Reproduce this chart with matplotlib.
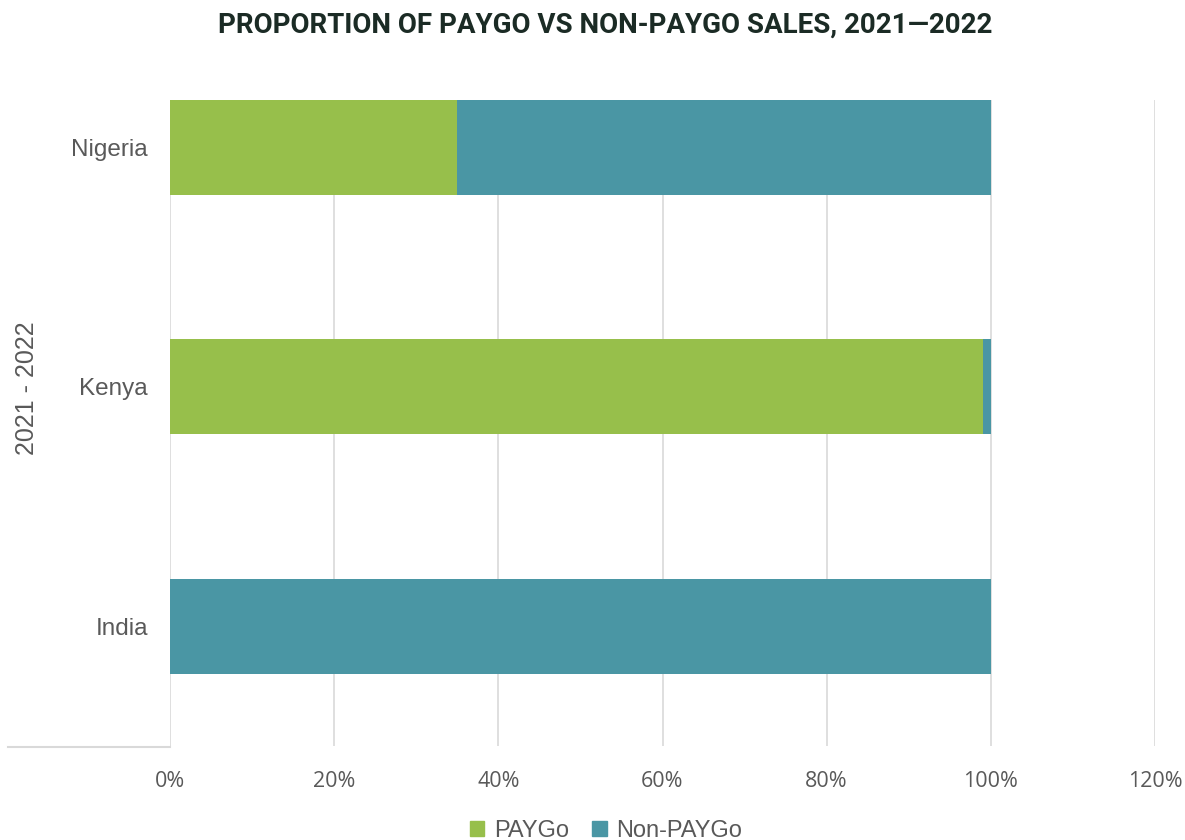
import matplotlib.pyplot as plt
from matplotlib.lines import Line2D
from matplotlib.patches import Patch
from matplotlib.ticker import PercentFormatter

# donnees (de bas en haut)
pays = ["India", "Kenya", "Nigeria"]
paygo = [0, 99, 35]
non_paygo = [100, 1, 65]
graduations = [0, 20, 40, 60, 80, 100, 120]

vert = "#97bf4b"
bleu = "#4a96a4"
gris_texte = "#595959"
gris_grille = "#d9d9d9"
arial = ["Liberation Sans", "DejaVu Sans"]

plt.rcParams["font.family"] = ["Open Sans", "DejaVu Sans"]

fig = plt.figure(figsize=(11.85, 8.4), dpi=100)
ax = fig.add_axes([170 / 1185, 1 - 746 / 840, 985 / 1185, 646 / 840])

pos = range(len(pays))
ax.barh(pos, paygo, height=0.396, color=vert, label="PAYGo", zorder=3)
ax.barh(pos, non_paygo, left=paygo, height=0.396, color=bleu, label="Non-PAYGo", zorder=3)

ax.set_xlim(0, 120)
ax.set_ylim(-0.5, 2.198)
ax.set_xticks(graduations)
ax.xaxis.set_major_formatter(PercentFormatter(decimals=0))
ax.set_yticks(list(pos))
ax.set_yticklabels(pays, family=arial, fontsize=17.5)
ax.tick_params(axis="both", length=0, labelcolor=gris_texte)
ax.tick_params(axis="x", pad=18, labelsize=15.5)
ax.tick_params(axis="y", pad=16)
ax.grid(axis="x", color=gris_grille, linewidth=1.2, zorder=0)

for cote in ["top", "right", "bottom", "left"]:
    ax.spines[cote].set_visible(False)

# trait de la categorie exterieure
fig.add_artist(Line2D([8 / 1185, 170 / 1185], [1 - 747 / 840, 1 - 747 / 840],
                      color=gris_grille, linewidth=1.5))
fig.text(27 / 1185, 1 - 388 / 840, "2021 - 2022", rotation=90, ha="center", va="center",
         fontsize=18, color=gris_texte, family=arial)

fig.text(605 / 1185, 1 - 25 / 840, "PROPORTION OF PAYGO VS NON-PAYGO SALES, 2021\u20142022",
         ha="center", va="center", fontsize=20, fontweight="bold", color="#1b2b25",
         family=["Roboto", "DejaVu Sans"])

poignees = [Patch(color=vert), Patch(color=bleu)]
fig.legend(poignees, ["PAYGo", "Non-PAYGo"], loc="center", bbox_to_anchor=(606 / 1185, 1 - 831 / 840),
           ncol=2, frameon=False, prop={"family": arial, "size": 17}, labelcolor=gris_texte,
           handlelength=0.6, handleheight=0.6, handletextpad=0.4, columnspacing=1.0)

fig.savefig("out.png", dpi=100)
